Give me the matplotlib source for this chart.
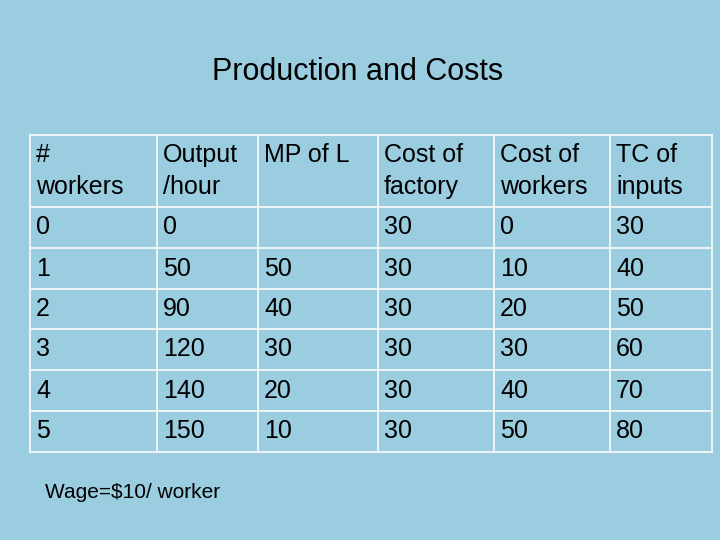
import matplotlib
matplotlib.use("Agg")
import matplotlib.pyplot as plt

title = "Production and Costs"
headers = [["#", "workers"], ["Output", "/hour"], ["MP of L", ""], ["Cost of", "factory"], ["Cost of", "workers"], ["TC of", "inputs"]]
workers = ["0", "1", "2", "3", "4", "5"]
output = ["0", "50", "90", "120", "140", "150"]
mpl_ = ["", "50", "40", "30", "20", "10"]
factory = ["30", "30", "30", "30", "30", "30"]
wcost = ["0", "10", "20", "30", "40", "50"]
tc = ["30", "40", "50", "60", "70", "80"]
note = "Wage=$10/ worker"

cols = [workers, output, mpl_, factory, wcost, tc]
xs = [30, 157, 258, 378, 494, 610, 712]
ys = [135, 207, 248, 289, 329, 370, 411, 452]

plt.rcParams['font.family'] = ['Liberation Sans', 'DejaVu Sans']
fig = plt.figure(figsize=(7.2, 5.4), dpi=100)
fig.patch.set_facecolor('#9ACDE0')
ax = fig.add_axes([0, 0, 1, 1])
ax.set_xlim(0, 720); ax.set_ylim(540, 0); ax.axis('off')

for x in xs:
    ax.plot([x, x], [ys[0], ys[-1]], color='#F4F8FA', lw=1.3)
for y in ys:
    ax.plot([xs[0], xs[-1]], [y, y], color='#F4F8FA', lw=1.3)

ax.text(358, 72, title, ha='center', va='center', fontsize=22)
for j, h in enumerate(headers):
    ax.text(xs[j] + 6, 155, h[0], ha='left', va='center', fontsize=18)
    ax.text(xs[j] + 6, 187, h[1], ha='left', va='center', fontsize=18)
for j, col in enumerate(cols):
    for i, v in enumerate(col):
        ax.text(xs[j] + 6, (ys[i + 1] + ys[i + 2]) / 2, v, ha='left', va='center', fontsize=18)
ax.text(45, 492, note, ha='left', va='center', fontsize=15)
fig.savefig("out.png", dpi=100, facecolor=fig.get_facecolor())
